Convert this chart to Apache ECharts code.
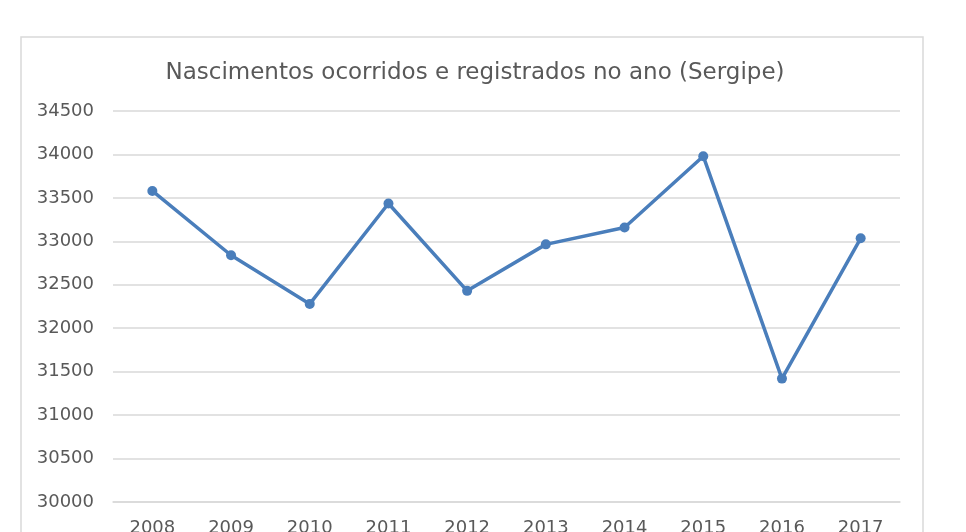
<!DOCTYPE html>
<html lang="pt">
<head>
    <meta charset="UTF-8">
    <title>Nascimentos Sergipe</title>
    <script src="https://cdn.jsdelivr.net/npm/echarts@6/dist/echarts.min.js"></script>
    <style>
        html, body { margin: 0; padding: 0; background: #fff; overflow: hidden; }
        #main { width: 966px; height: 532px; }
    </style>
</head>
<body>
<div id="main"></div>
<script>
    var anos = ['2008', '2009', '2010', '2011', '2012', '2013', '2014', '2015', '2016', '2017'];
    var nascimentos = [33580, 32840, 32280, 33435, 32430, 32965, 33160, 33980, 31420, 33035];
    var yMin = 30000, yMax = 34500, yStep = 500;

    var myChart = echarts.init(document.getElementById('main'));
    var option = {
        backgroundColor: '#fff',
        textStyle: { fontFamily: 'DejaVu Sans' },
        graphic: [{
            type: 'rect',
            shape: { x: 21, y: 37, width: 902, height: 520 },
            style: { fill: 'none', stroke: '#d9d9d9', lineWidth: 1.5 },
            silent: true
        }],
        title: {
            text: 'Nascimentos ocorridos e registrados no ano (Sergipe)',
            left: 470,
            textAlign: 'center',
            top: 57,
            textStyle: { fontSize: 23, fontWeight: 'normal', color: '#595959' }
        },
        grid: { left: 113, right: 66, top: 111, bottom: 30, outerBoundsMode: 'none' },
        xAxis: {
            type: 'category',
            data: anos,
            boundaryGap: true,
            axisLine: { lineStyle: { color: '#d9d9d9', width: 1.5 } },
            axisTick: { show: false },
            axisLabel: { color: '#595959', fontSize: 18, margin: 17 }
        },
        yAxis: {
            type: 'value',
            min: yMin,
            max: yMax,
            interval: yStep,
            axisLine: { show: false },
            axisTick: { show: false },
            axisLabel: {
                color: '#595959', fontSize: 18, margin: 19,
                formatter: function (v) { return String(v); }
            },
            splitLine: { lineStyle: { color: '#d9d9d9', width: 1.5 } }
        },
        series: [{
            type: 'line',
            data: nascimentos,
            symbol: 'circle',
            symbolSize: 10,
            itemStyle: { color: '#4a7ebb' },
            lineStyle: { color: '#4a7ebb', width: 3.5 }
        }]
    };
    myChart.setOption(option);
</script>
</body>
</html>
